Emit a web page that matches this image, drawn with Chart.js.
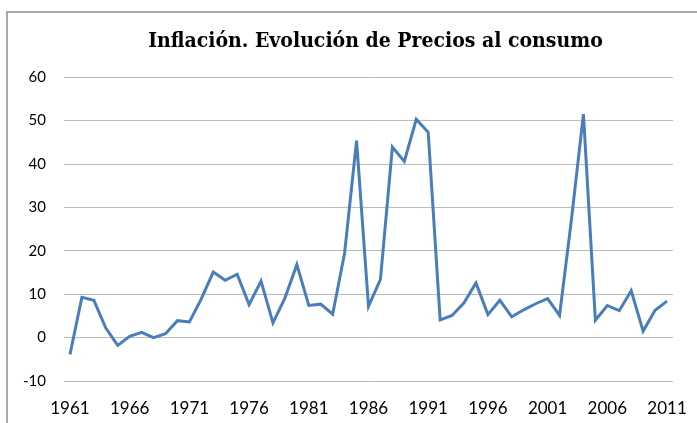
<!DOCTYPE html>
<html>
<head>
<meta charset="utf-8">
<script src="https://cdn.jsdelivr.net/npm/chart.js@4/dist/chart.umd.min.js"></script>
<style>
  html, body { margin:0; padding:0; background:#fff; }
  #wrap { position:relative; width:697px; height:423px; overflow:hidden; }
  #frame { position:absolute; left:6px; top:11px; width:800px; height:500px; border-left:2px solid #a9a9a9; border-top:2px solid #a9a9a9; }
  canvas { position:absolute; left:0; top:0; }
</style>
</head>
<body>
<div id="wrap">
  <div id="frame"></div>
  <canvas id="chart" width="697" height="423"></canvas>
</div>
<script>
// inflation chart data
const chartTitle = 'Inflación. Evolución de Precios al consumo';
const years = [
  '1961','1962','1963','1964','1965','1966','1967','1968','1969','1970',
  '1971','1972','1973','1974','1975','1976','1977','1978','1979','1980',
  '1981','1982','1983','1984','1985','1986','1987','1988','1989','1990',
  '1991','1992','1993','1994','1995','1996','1997','1998','1999','2000',
  '2001','2002','2003','2004','2005','2006','2007','2008','2009','2010',
  '2011'
];
const inflation = [
  -3.9, 9.3, 8.6, 2.2, -1.8, 0.3, 1.2, 0.0, 0.9, 3.9,
  3.6, 8.9, 15.1, 13.2, 14.6, 7.6, 13.0, 3.4, 9.1, 16.8,
  7.4, 7.7, 5.4, 19.5, 45.4, 7.2, 13.4, 43.9, 40.6, 50.3,
  47.3, 4.1, 5.1, 8.0, 12.6, 5.3, 8.6, 4.8, 6.4, 7.8,
  9.0, 5.1, 27.3, 51.5, 4.0, 7.4, 6.2, 10.8, 1.5, 6.3,
  8.4
];
const yMin = -10, yMax = 60, yStep = 10;

// the title sits a bit right of the plot centre in the original
const shiftTitle = {
  id: 'shiftTitle',
  afterLayout(chart){
    if(chart.titleBlock){ chart.titleBlock.left += 7; chart.titleBlock.right += 7; }
  }
};

new Chart(document.getElementById('chart'), {
  type: 'line',
  data: {
    labels: years,
    datasets: [{
      data: inflation,
      borderColor: '#4a7ebb',
      borderWidth: 3,
      pointRadius: 0,
      tension: 0,
      fill: false
    }]
  },
  options: {
    responsive: false,
    animation: false,
    layout: { padding: { left: 0, right: 24, top: 12, bottom: 0 } },
    plugins: {
      legend: { display: false },
      tooltip: { enabled: false },
      title: {
        display: true,
        text: chartTitle,
        fullSize: false,
        color: '#000',
        font: { family: "'DejaVu Serif Condensed', 'Liberation Serif'", size: 21, weight: 'bold' },
        padding: { top: 17, bottom: 23 }
      }
    },
    scales: {
      x: {
        offset: true,
        grid: { display: false },
        border: { display: false },
        ticks: {
          autoSkip: false,
          maxRotation: 0,
          color: '#000',
          font: { family: 'Lato', size: 17 },
          padding: 9,
          callback: function(v, i){ return i % 5 === 0 ? this.getLabelForValue(v) : ''; }
        },
        afterFit: s => { s.height = 42; }
      },
      y: {
        min: yMin,
        max: yMax,
        grid: { color: '#bcbcbc', lineWidth: 1, drawTicks: false },
        border: { display: false },
        ticks: { stepSize: yStep, color: '#000', font: { family: 'Lato', size: 15 }, padding: 18 },
        afterFit: s => { s.width = 64; }
      }
    }
  },
  plugins: [shiftTitle]
});
</script>
</body>
</html>
